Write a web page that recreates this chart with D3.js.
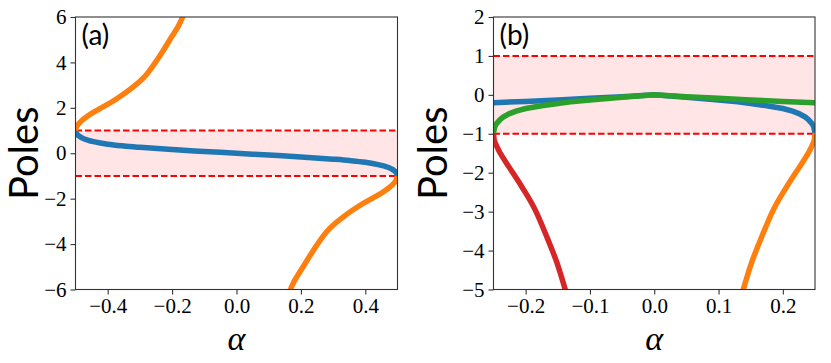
<!DOCTYPE html>
<html>
<head>
<meta charset="utf-8">
<script src="https://cdn.jsdelivr.net/npm/d3@7"></script>
<style>
  body { margin: 0; background: #fff; }
  svg { display: block; }
</style>
</head>
<body>
<div id="chart"></div>
<script>
// panel (a)
const aAlphaTicks = [-0.4, -0.2, 0.0, 0.2, 0.4]
const aPoleTicks = [-6, -4, -2, 0, 2, 4, 6]
const aBlueAlpha = [-0.5, -0.498, -0.49, -0.48, -0.46, -0.44, -0.4, -0.35, -0.3, -0.2, -0.1, 0, 0.1, 0.2, 0.3, 0.35, 0.4, 0.44, 0.46, 0.48, 0.49, 0.498, 0.5]
const aBluePole = [1.0, 0.9, 0.77, 0.68, 0.57, 0.5, 0.4, 0.32, 0.26, 0.16, 0.08, 0, -0.08, -0.16, -0.26, -0.32, -0.4, -0.5, -0.57, -0.68, -0.77, -0.9, -1.0]
const aOrangeUpAlpha = [-0.5, -0.499, -0.496, -0.49, -0.477, -0.46, -0.435, -0.384, -0.332, -0.28, -0.239, -0.207, -0.171, -0.165, -0.16]
const aOrangeUpPole = [1.0, 1.08, 1.18, 1.3, 1.48, 1.66, 1.88, 2.29, 2.8, 3.46, 4.27, 5.0, 5.88, 6.1, 6.3]
const aOrangeLowAlpha = [0.5, 0.499, 0.496, 0.49, 0.477, 0.46, 0.435, 0.384, 0.332, 0.28, 0.239, 0.207, 0.171, 0.165, 0.16]
const aOrangeLowPole = [-1.0, -1.08, -1.18, -1.3, -1.48, -1.66, -1.88, -2.29, -2.8, -3.46, -4.27, -5.0, -5.88, -6.1, -6.3]

// panel (b)
const bAlphaTicks = [-0.2, -0.1, 0.0, 0.1, 0.2]
const bPoleTicks = [-5, -4, -3, -2, -1, 0, 1, 2]
const bBlueAlpha = [-0.25, -0.2, -0.15, -0.1, -0.05, 0, 0.05, 0.1, 0.13, 0.15, 0.175, 0.2, 0.215, 0.225, 0.235, 0.24, 0.245, 0.248, 0.25]
const bBluePole = [-0.2, -0.17, -0.13, -0.09, -0.05, 0, -0.06, -0.13, -0.18, -0.22, -0.28, -0.35, -0.42, -0.48, -0.57, -0.64, -0.73, -0.82, -0.97]
const bGreenAlpha = [-0.25, -0.248, -0.245, -0.24, -0.235, -0.225, -0.215, -0.2, -0.175, -0.15, -0.13, -0.1, -0.05, 0, 0.05, 0.1, 0.15, 0.2, 0.25]
const bGreenPole = [-0.97, -0.82, -0.73, -0.64, -0.57, -0.48, -0.42, -0.35, -0.28, -0.22, -0.18, -0.13, -0.06, 0, -0.05, -0.09, -0.13, -0.17, -0.2]
const bRedAlpha = [-0.25, -0.249, -0.246, -0.242, -0.235, -0.226, -0.206, -0.185, -0.167, -0.151, -0.139, -0.135]
const bRedPole = [-1.0, -1.15, -1.28, -1.42, -1.62, -1.85, -2.36, -2.96, -3.65, -4.33, -4.97, -5.2]
const bOrangeAlpha = [0.25, 0.249, 0.246, 0.242, 0.235, 0.226, 0.206, 0.185, 0.167, 0.151, 0.139, 0.135]
const bOrangePole = [-1.0, -1.15, -1.28, -1.42, -1.62, -1.85, -2.36, -2.96, -3.65, -4.33, -4.97, -5.2]

const W = 831, H = 363
const TOP = 17, BOTTOM = 289.5
const SERIF = '"Liberation Serif", "Times New Roman", "DejaVu Serif", Times, serif'

const svg = d3.select('#chart')
    .append('svg')
        .attr('width', W)
        .attr('height', H)

function toPoints(xs, ys) {
    return xs.map((x, i) => ({ x: x, y: ys[i] }))
}

function drawPanel(p) {
    const x = d3.scaleLinear().domain(p.xDomain).range([p.left, p.right])
    const y = d3.scaleLinear().domain(p.yDomain).range([BOTTOM, TOP])

    const g = svg.append('g')

    g.append('clipPath')
        .attr('id', p.id)
        .append('rect')
            .attr('x', p.left)
            .attr('y', TOP)
            .attr('width', p.right - p.left)
            .attr('height', BOTTOM - TOP)

    const plot = g.append('g').attr('clip-path', `url(#${p.id})`)

    // shaded unit band
    plot.append('rect')
        .attr('x', p.left)
        .attr('y', y(1))
        .attr('width', p.right - p.left)
        .attr('height', y(-1) - y(1))
        .attr('fill', '#ffe5e5')

    plot.selectAll('line.ref')
        .data([1, -1])
        .enter().append('line')
            .attr('class', 'ref')
            .attr('x1', p.left)
            .attr('x2', p.right)
            .attr('y1', d => y(d))
            .attr('y2', d => y(d))
            .attr('stroke', '#ff0000')
            .attr('stroke-width', 2)
            .attr('stroke-dasharray', '6.5,3')

    p.curves.forEach(c => {
        const line = d3.line()
            .x(d => x(d.x))
            .y(d => y(d.y))
            .curve(c.curve || d3.curveMonotoneX)
        plot.append('path')
            .datum(toPoints(c.xs, c.ys))
            .attr('d', line)
            .attr('fill', 'none')
            .attr('stroke', c.color)
            .attr('stroke-width', 5.5)
    })

    // axes
    const xAxis = g.append('g')
        .attr('transform', `translate(0, ${ BOTTOM })`)
        .call(d3.axisBottom(x).tickValues(p.xTicks).tickFormat(d3.format('.1f')).tickSize(5).tickPadding(4))
    const yAxis = g.append('g')
        .attr('transform', `translate(${ p.left }, 0)`)
        .call(d3.axisLeft(y).tickValues(p.yTicks).tickFormat(d3.format('d')).tickSize(5).tickPadding(4))

    ;[xAxis, yAxis].forEach(a => {
        a.attr('font-family', null)
        a.select('.domain').remove()
        a.selectAll('line').attr('stroke', '#333').attr('stroke-width', 1.1)
        a.selectAll('text')
            .attr('fill', '#000')
            .attr('font-family', SERIF)
            .attr('font-size', 21)
    })

    g.append('rect')
        .attr('x', p.left)
        .attr('y', TOP)
        .attr('width', p.right - p.left)
        .attr('height', BOTTOM - TOP)
        .attr('fill', 'none')
        .attr('stroke', '#333')
        .attr('stroke-width', 1.1)

    g.append('text')
        .attr('x', p.left + 6)
        .attr('y', TOP + 28)
        .attr('font-family', 'Lato, sans-serif')
        .attr('font-size', 28)
        .text(p.label)

    g.append('text')
        .attr('transform', `translate(${ p.left - p.labelOffset }, ${ (TOP + BOTTOM) / 2 }) rotate(-90)`)
        .attr('text-anchor', 'middle')
        .attr('font-family', 'Lato, sans-serif')
        .attr('font-size', 40)
        .text('Poles')

    g.append('text')
        .attr('x', (p.left + p.right) / 2)
        .attr('y', 350)
        .attr('text-anchor', 'middle')
        .attr('font-family', SERIF)
        .attr('font-style', 'italic')
        .attr('font-size', 34)
        .text('α')
}

drawPanel({
    id: 'clipA', label: '(a)', labelOffset: 38,
    left: 75.5, right: 397.5,
    xDomain: [-0.5, 0.5], yDomain: [-6, 6],
    xTicks: aAlphaTicks, yTicks: aPoleTicks,
    curves: [
        { xs: aBlueAlpha, ys: aBluePole, color: '#1f77b4' },
        { xs: aOrangeUpAlpha, ys: aOrangeUpPole, color: '#ff7f0e' },
        { xs: aOrangeLowAlpha, ys: aOrangeLowPole, color: '#ff7f0e' }
    ]
})

drawPanel({
    id: 'clipB', label: '(b)', labelOffset: 47,
    left: 493.5, right: 815,
    xDomain: [-0.25, 0.25], yDomain: [-5, 2],
    xTicks: bAlphaTicks, yTicks: bPoleTicks,
    curves: [
        { xs: bBlueAlpha, ys: bBluePole, color: '#1f77b4', curve: d3.curveLinear },
        { xs: bGreenAlpha, ys: bGreenPole, color: '#2ca02c', curve: d3.curveLinear },
        { xs: bRedAlpha, ys: bRedPole, color: '#d62728' },
        { xs: bOrangeAlpha, ys: bOrangePole, color: '#ff7f0e' }
    ]
})
</script>
</body>
</html>
